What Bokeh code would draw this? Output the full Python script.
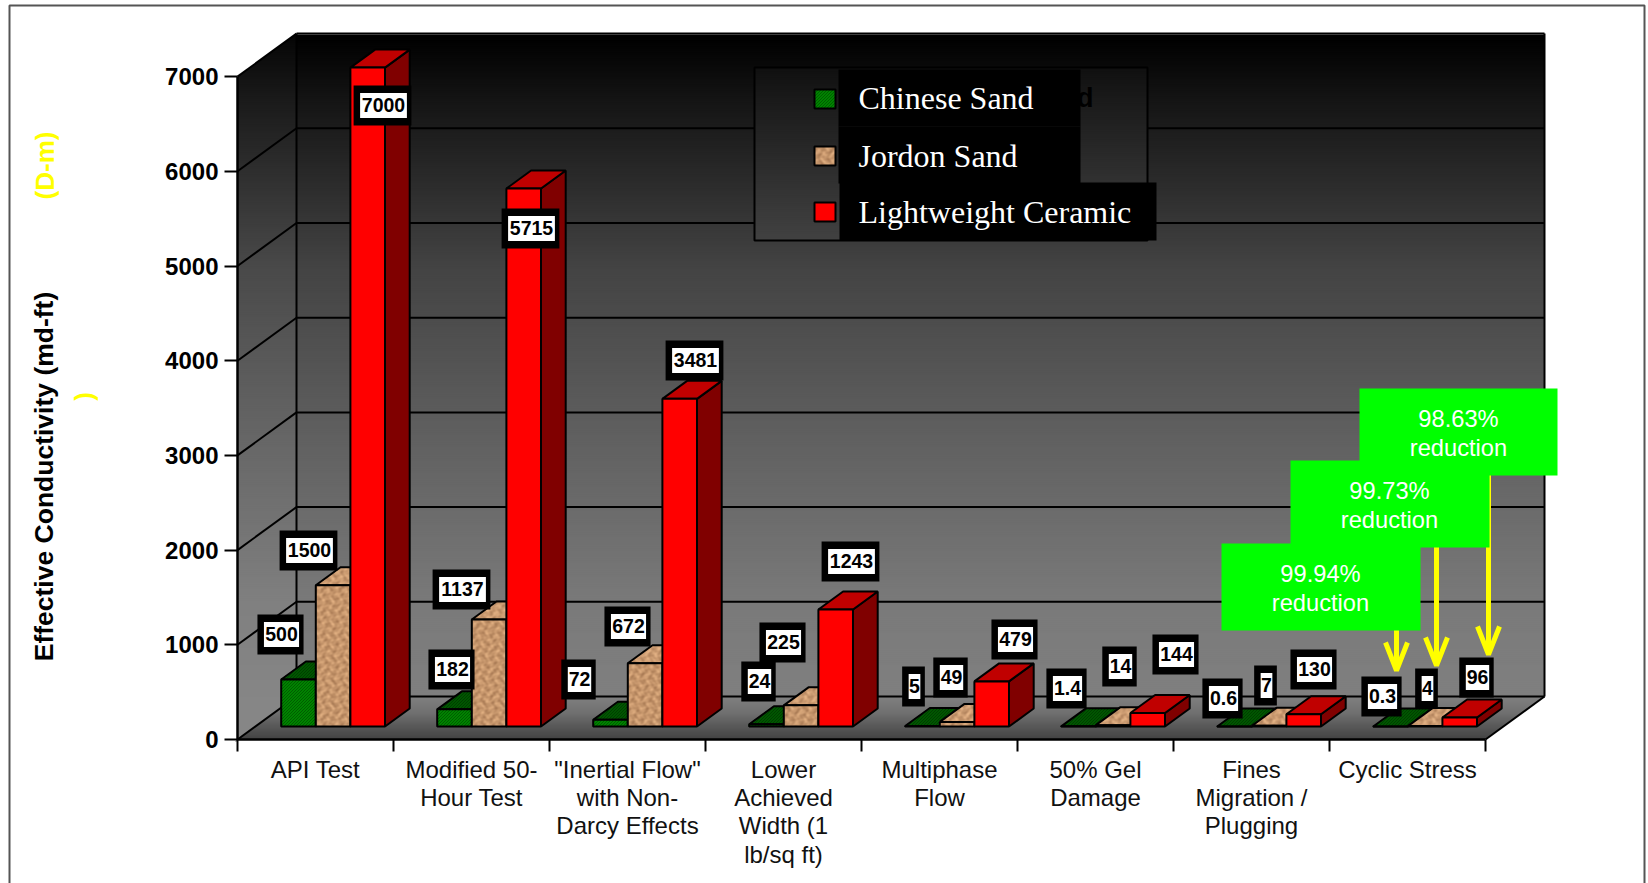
import numpy as np
from bokeh.core.properties import value
from bokeh.embed import file_html
from bokeh.models import FixedTicker, LinearAxis, Range1d
from bokeh.plotting import figure
from bokeh.resources import INLINE

categories = [
    "API Test",
    "Modified 50-\nHour Test",
    '"Inertial Flow"\nwith Non-\nDarcy Effects',
    "Lower\nAchieved\nWidth (1\nlb/sq ft)",
    "Multiphase\nFlow",
    "50% Gel\nDamage",
    "Fines\nMigration /\nPlugging",
    "Cyclic Stress",
]
chinese_sand = [500, 182, 72, 24, 5, 1.4, 0.6, 0.3]
jordon_sand = [1500, 1137, 672, 225, 49, 14, 7, 4]
lightweight_ceramic = [7000, 5715, 3481, 1243, 479, 144, 130, 96]
y_ticks = [0, 1000, 2000, 3000, 4000, 5000, 6000, 7000]
reductions = ["99.94%", "99.73%", "98.63%"]

# Page geometry of the 3D box
WIDTH, HEIGHT = 1648, 883
LEFT, BOTTOM = 237.0, 739.0
CAT_PX = 156.0
VAL_PX = 0.0947
DEPTH_X, DEPTH_Y = 59.0, 43.0
BAR_PX = 34.6
BAR_SCALE = 0.994  # bars stand slightly inside the wall's scale once pushed back in depth


def X(px):
    return (np.asarray(px, dtype=float) - LEFT) / CAT_PX


def Y(py):
    return (BOTTOM - np.asarray(py, dtype=float)) / VAL_PX


def to_px(x, y):
    return LEFT + x * CAT_PX, BOTTOM - y * VAL_PX


def project(cat, val, depth):
    """Category/value position pushed back by `depth` (0 front of floor, 1 back wall)."""
    return cat + depth * DEPTH_X / CAT_PX, val + depth * DEPTH_Y / VAL_PX


# The frame fills the page; the axes sit inside it at fixed data positions
p = figure(
    width=WIDTH, height=HEIGHT, output_backend="svg", toolbar_location=None,
    x_range=Range1d(float(X(0)), float(X(WIDTH))),
    y_range=Range1d(float(Y(HEIGHT)), float(Y(0))),
    min_border_left=0, min_border_right=0, min_border_top=0, min_border_bottom=0,
    x_axis_type=None, y_axis_type=None,
)
p.grid.visible = False
p.outline_line_color = None
p.background_fill_color = "white"
p.border_fill_color = "white"


# Wall shading, darkest at the top of the box
def wall_grey(py, lift=0.0):
    g = np.interp(py, [34, 100, 267, 420, 600, 696], [0, 21, 68, 94, 122, 128]) + lift
    g = int(min(g, 255))
    return f"#{g:02x}{g:02x}{g:02x}"


def floor_grey(py):
    g = int(np.interp(py, [696, 712, 739], [128, 112, 66]))
    return f"#{g:02x}{g:02x}{g:02x}"


back_x, back_r, back_top, back_bot = LEFT + DEPTH_X, LEFT + 1248 + DEPTH_X, 34.0, 696.0
strips_y = np.arange(back_top, back_bot, 2.0)
p.quad(left=X(back_x), right=X(back_r), top=Y(strips_y), bottom=Y(strips_y + 3),
       fill_color=[wall_grey(v) for v in strips_y], line_color=None)

# Left wall, one trapezoid per strip
top_front = BOTTOM - 7000 * VAL_PX


def left_edge(py):
    return LEFT + max(0.0, top_front - py) * DEPTH_X / DEPTH_Y


def right_edge(py):
    return back_x - max(0.0, py - back_bot) * DEPTH_X / DEPTH_Y


wall_y = np.arange(back_top, BOTTOM, 2.0)
p.patches(
    xs=[[float(X(left_edge(v))), float(X(right_edge(v))), float(X(right_edge(v + 3))), float(X(left_edge(v + 3)))] for v in wall_y],
    ys=[[float(Y(v)), float(Y(v)), float(Y(v + 3)), float(Y(v + 3))] for v in wall_y],
    fill_color=[wall_grey(v, 6) for v in wall_y], line_color=None,
)

# Floor
floor_y = np.arange(back_bot, BOTTOM, 1.0)
p.patches(
    xs=[[float(X(right_edge(v))), float(X(right_edge(v) + 1248)), float(X(right_edge(v + 1.5) + 1248)), float(X(right_edge(v + 1.5)))] for v in floor_y],
    ys=[[float(Y(v)), float(Y(v)), float(Y(min(v + 1.5, BOTTOM))), float(Y(min(v + 1.5, BOTTOM)))] for v in floor_y],
    fill_color=[floor_grey(v) for v in floor_y], line_color=None,
)

# Gridlines across the back wall and down the left wall
for v in y_ticks:
    bx, by = project(0, v, 1)
    rx, _ = project(8, v, 1)
    p.line([0, bx], [v, by], line_color="black", line_width=2)
    p.line([bx, rx], [by, by], line_color="black", line_width=2)
for c in (0, 8):
    a = project(c, 0, 1)
    b = project(c, 7000, 1)
    p.line([a[0], b[0]], [a[1], b[1]], line_color="black", line_width=2)
p.line([8, project(8, 0, 1)[0]], [0, project(8, 0, 1)[1]], line_color="black", line_width=2)

# Legend panel with the wall shading carried through it
leg_l, leg_r, leg_t, leg_b = 754.0, 1147.0, 67.0, 240.0
leg_y = np.arange(leg_t, leg_b, 2.0)
p.quad(left=X(leg_l), right=X(leg_r), top=Y(leg_y), bottom=Y(np.minimum(leg_y + 3, leg_b)),
       fill_color=[wall_grey(v, 6) for v in leg_y], line_color=None)
p.quad(left=X(leg_l), right=X(leg_r), top=Y(leg_t), bottom=Y(leg_b),
       fill_color=None, line_color="black", line_width=2)
p.text(x=[X(1093)], y=[Y(97)], text=["Chinese Sand"], text_color="black",
       text_font=value("Liberation Sans"), text_font_size=value("27px"), text_font_style="bold",
       text_align="right", text_baseline="middle")
p.quad(left=X([838, 838, 839]), right=X([1080, 1080, 1156]), top=Y([69, 126, 182]), bottom=Y([126, 183, 240]),
       fill_color="black", line_color=None)
legend_names = ["Chinese Sand", "Jordon Sand", "Lightweight Ceramic"]
p.text(x=X([858, 858, 858]), y=Y([97, 155, 211]), text=legend_names, text_color="white",
       text_font=value("Liberation Serif"), text_font_size=value("32px"),
       text_align="left", text_baseline="middle")


# Textured faces: per-pixel fill of a convex polygon given in data space
def stripes(px, py, base, dark):
    on = ((np.floor(px) + np.floor(py)) % 3) < 1
    return [np.where(on, dark[i], base[i]) for i in range(3)]


def mottle(px, py, lift=0.0):
    n = (np.sin(px * 0.71 + 1.9 * np.sin(py * 0.29)) + np.sin(py * 0.83 + 2.1 * np.sin(px * 0.37))
         + 0.5 * np.sin(px * 1.37 + 2.3 * np.sin(py * 0.53)) + 0.35 * np.sin(py * 1.93 + px * 0.41)) / 2.9
    return [198 + lift + 34 * n, 150 + lift + 32 * n, 108 + lift + 27 * n]


def textured(poly_x, poly_y, shader):
    qx, qy = to_px(np.asarray(poly_x, dtype=float), np.asarray(poly_y, dtype=float))
    x0, x1 = int(np.floor(qx.min())), int(np.ceil(qx.max()))
    y0, y1 = int(np.floor(qy.min())), int(np.ceil(qy.max()))
    w, h = x1 - x0, y1 - y0
    if w < 1 or h < 1:
        return
    gx, gy = np.meshgrid(x0 + 0.5 + np.arange(w), y1 - 0.5 - np.arange(h))
    signs = []
    for a in range(len(qx)):
        b = (a + 1) % len(qx)
        signs.append((qx[b] - qx[a]) * (gy - qy[a]) - (qy[b] - qy[a]) * (gx - qx[a]))
    signs = np.array(signs)
    mask = np.all(signs >= -0.5, axis=0) | np.all(signs <= 0.5, axis=0)
    r, g, b = shader(gx, gy)
    img = np.zeros((h, w), dtype=np.uint32)
    view = img.view(np.uint8).reshape((h, w, 4))
    view[..., 0] = np.clip(r, 0, 255)
    view[..., 1] = np.clip(g, 0, 255)
    view[..., 2] = np.clip(b, 0, 255)
    view[..., 3] = np.where(mask, 255, 0)
    p.image_rgba(image=[img], x=[float(X(x0))], y=[float(Y(y1))],
                 dw=[float(w / CAT_PX)], dh=[float(h / VAL_PX)])


green_front = lambda a, b: stripes(a, b, (0, 170, 0), (0, 15, 0))
green_top = lambda a, b: stripes(a, b, (0, 110, 0), (0, 15, 0))
green_side = lambda a, b: stripes(a, b, (0, 90, 0), (0, 15, 0))
tan_front = lambda a, b: mottle(a, b)
tan_top = lambda a, b: mottle(a, b, 6)
tan_side = lambda a, b: mottle(a, b, -40)

OUTLINE = dict(line_color="black", line_width=2)
D0, D1 = 13.0 / DEPTH_Y, 31.0 / DEPTH_Y
BAR_W = BAR_PX / CAT_PX
GROUP_OFFSET = (43.7 - D0 * DEPTH_X) / CAT_PX


def bar(left, val, face):
    """Draw one box: side, top, then front face, so nearer faces cover farther ones."""
    right = left + BAR_W
    rise = val * BAR_SCALE
    fx, fy0 = project(np.array([left, right]), np.zeros(2), D0)
    fy1 = fy0 + rise
    bx, by0 = project(np.array([left, right]), np.zeros(2), D1)
    by1 = by0 + rise
    side = ([fx[1], bx[1], bx[1], fx[1]], [fy0[1], by0[1], by1[1], fy1[1]])
    top = ([fx[0], fx[1], bx[1], bx[0]], [fy1[0], fy1[1], by1[1], by1[0]])
    front = ([fx[0], fx[1], fx[1], fx[0]], [fy0[0], fy0[1], fy1[1], fy1[0]])
    for poly, key in ((side, "side"), (top, "top"), (front, "front")):
        f = face[key]
        if callable(f):
            textured(poly[0], poly[1], f)
            p.patch(poly[0], poly[1], fill_color=None, **OUTLINE)
        else:
            p.patch(poly[0], poly[1], fill_color=f, **OUTLINE)


FACES = [
    {"front": green_front, "top": green_top, "side": green_side},
    {"front": tan_front, "top": tan_top, "side": tan_side},
    {"front": "#ff0000", "top": "#c00000", "side": "#800000"},
]
for i in range(len(categories)):
    for j, series in enumerate((chinese_sand, jordon_sand, lightweight_ceramic)):
        bar(i + GROUP_OFFSET + j * BAR_W, series[i], FACES[j])

# Legend swatches
swatch_top = [89, 146, 202]
for k, f in enumerate(FACES):
    sx = [float(X(814)), float(X(835)), float(X(835)), float(X(814))]
    sy = [float(Y(swatch_top[k] + 19)), float(Y(swatch_top[k] + 19)), float(Y(swatch_top[k])), float(Y(swatch_top[k]))]
    if callable(f["front"]):
        textured(sx, sy, f["front"])
        p.patch(sx, sy, fill_color=None, **OUTLINE)
    else:
        p.patch(sx, sy, fill_color=f["front"], **OUTLINE)

# Value tags: black plate, white card, bold number
label_centres = [
    [(280, 634), (308, 550), (382, 105)],
    [(451, 669), (461, 589), (530, 228)],
    [(578, 679), (627, 626), (694, 360)],
    [(758, 681), (782, 642), (850, 561)],
    [(913, 686), (950, 677), (1014, 639)],
    [(1066, 688), (1119, 666), (1175, 654)],
    [(1222, 698), (1265, 685), (1313, 669)],
    [(1381, 696), (1426, 688), (1476, 677)],
]
for i in range(len(categories)):
    for j, series in enumerate((chinese_sand, jordon_sand, lightweight_ceramic)):
        txt = f"{series[i]:g}"
        card = sum(5.8 if c == "." else 11.7 for c in txt)
        cx, cy = label_centres[i][j]
        p.quad(left=[float(X(cx - card / 2 - 5.5))], right=[float(X(cx + card / 2 + 5.5))],
               top=[float(Y(cy - 20))], bottom=[float(Y(cy + 20))], fill_color="black", line_color=None)
        p.quad(left=[float(X(cx - card / 2 + 1))], right=[float(X(cx + card / 2 + 1))],
               top=[float(Y(cy - 12.5))], bottom=[float(Y(cy + 12.5))], fill_color="white", line_color=None)
        p.text(x=[float(X(cx + 1))], y=[float(Y(cy - 1))], text=[txt], text_color="black",
               text_font=value("Liberation Sans"), text_font_size=value("19.5px"), text_font_style="bold",
               text_align="center", text_baseline="middle")

# Call-outs and arrows for the last group, back to front
callouts = [
    (1359, 1557, 388, 475, 1458, 1488, 470, 656, reductions[2]),
    (1290, 1489, 460, 547, 1389, 1436, 540, 667, reductions[1]),
    (1221, 1420, 543, 630, 1320, 1396, 625, 672, reductions[0]),
]
for l, r, t, b, tx, ax, a0, a1, pct in callouts:
    p.line(X([ax, ax]), Y([a0, a1 - 3]), line_color="#ffff00", line_width=5)
    p.line(X([ax - 11, ax, ax + 11]), Y([a1 - 30, a1 - 2, a1 - 30]), line_color="#ffff00", line_width=5)
    p.quad(left=[float(X(l))], right=[float(X(r))], top=[float(Y(t))], bottom=[float(Y(b))],
           fill_color="#00ff00", line_color=None)
    p.text(x=[float(X(tx))] * 2, y=[float(Y(t + 30)), float(Y(t + 59))], text=[pct, "reduction"], text_color="white",
           text_font=value("Liberation Sans"), text_font_size=value("23.7px"),
           text_align="center", text_baseline="middle")

# Axes
yax = LinearAxis(ticker=FixedTicker(ticks=y_ticks), bounds=(0, 7000), fixed_location=0)
yax.axis_line_color = "black"
yax.axis_line_width = 2.5
yax.major_tick_line_color = "black"
yax.major_tick_line_width = 2
yax.major_tick_in = 0
yax.major_tick_out = 13
yax.minor_tick_line_color = None
yax.major_label_standoff = 6
yax.major_label_text_font = "Liberation Sans"
yax.major_label_text_font_style = "bold"
yax.major_label_text_font_size = "24px"
yax.major_label_text_color = "black"
p.add_layout(yax, "left")

centres = [i + 0.5 for i in range(len(categories))]
xax = LinearAxis(
    ticker=FixedTicker(ticks=centres, minor_ticks=list(range(len(categories) + 1))),
    bounds=(0, 8), fixed_location=0,
    major_label_overrides={c: t for c, t in zip(centres, categories)},
)
xax.axis_line_color = "black"
xax.axis_line_width = 2.5
xax.major_tick_line_color = None
xax.major_tick_in = 0
xax.major_tick_out = 0
xax.minor_tick_line_color = "black"
xax.minor_tick_line_width = 2
xax.minor_tick_in = 0
xax.minor_tick_out = 12
xax.major_label_standoff = 4
xax.major_label_text_font = "Liberation Sans"
xax.major_label_text_font_size = "24px"
xax.major_label_text_color = "#111111"
xax.major_label_text_align = "center"
xax.major_label_text_baseline = "top"
xax.major_label_text_line_height = 1.05
p.add_layout(xax, "below")

# Axis titles
p.text(x=[float(X(43))], y=[float(Y(476))], text=["Effective Conductivity (md-ft)"], angle=np.pi / 2,
       text_font=value("Liberation Sans"), text_font_style="bold", text_font_size=value("26.5px"),
       text_color="black", text_align="center", text_baseline="middle")
p.text(x=X([44, 83]), y=Y([165, 396]), text=["(D-m)", ")"], angle=np.pi / 2,
       text_font=value("Liberation Sans"), text_font_style="bold", text_font_size=value("26px"),
       text_color="#ffff00", text_align="center", text_baseline="middle")

# Page frame, open past the lower edge of the page
p.line(X([9, 9, 1644, 1644]), Y([HEIGHT + 5, 5, 5, HEIGHT + 5]), line_color="#555555", line_width=2)

open("out.html", "w").write(file_html(p, INLINE))
